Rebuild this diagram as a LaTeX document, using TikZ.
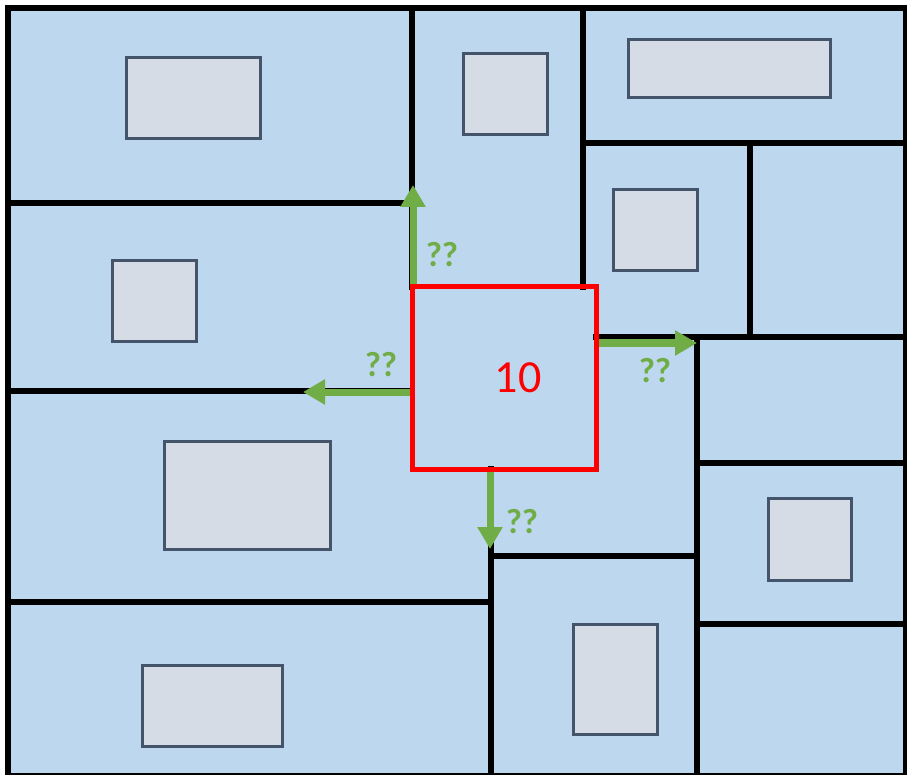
\documentclass[tikz,border=0pt]{standalone}
\usepackage{fontspec}
\setmainfont{Carlito}
\usetikzlibrary{arrows.meta}
\definecolor{cellblue}{HTML}{BDD7EE}
\definecolor{boxgray}{HTML}{D6DCE5}
\definecolor{boxedge}{HTML}{44546A}
\definecolor{flowgreen}{HTML}{70AD47}
\begin{document}
\begin{tikzpicture}[x=1pt, y=-1pt, line join=miter,
		wall/.style={line width=5.5pt, black, line cap=rect},
		block/.style={fill=boxgray, draw=boxedge, line width=3pt},
		flow/.style={line width=7pt, flowgreen, -{Triangle[width=24pt,length=22pt]}},
		probe/.style={text=flowgreen, font=\bfseries\fontsize{35}{42}\selectfont, inner sep=0pt}]
	\useasboundingbox (0,0) rectangle (907,775);
	\fill[cellblue] (8,8) rectangle (906,776);
	% objects in the cells
	\foreach \xa/\ya/\xb/\yb in {126/58/260/139, 463/54/547/135, 628/40/830/98, 613/190/697/271, 112/261/196/342, 164/441/330/549, 142/665/282/746, 768/498/851/580, 573/624/657/734} {
		\filldraw[block] (\xa,\ya) rectangle (\xb,\yb);
	}
	% walls between the cells
	\draw[wall] (412,8) -- (412,287);
	\draw[wall] (8,203) -- (412,203);
	\draw[wall] (583,8) -- (583,287);
	\draw[wall] (583,143) -- (906,143);
	\draw[wall] (750,143) -- (750,337);
	\draw[wall] (596,337) -- (906,337);
	\draw[wall] (697,337) -- (697,776);
	\draw[wall] (697,463) -- (906,463);
	\draw[wall] (697,624) -- (906,624);
	\draw[wall] (491,556) -- (697,556);
	\draw[wall] (491,469) -- (491,776);
	\draw[wall] (8,602) -- (491,602);
	\draw[wall] (8,391) -- (412,391);
	\draw[line width=6pt] (8,8) rectangle (906,776);
	% current cell
	\node[draw=red, line width=5pt, minimum width=184pt, minimum height=182pt, inner sep=0pt] (cur) at (504,378) {};
	\node[text=red, font=\fontsize{46}{55}\selectfont, inner sep=0pt] (num) at (518,378) {10};
	% neighbours
	\coordinate (upend) at (413,185);
	\coordinate (leftend) at (303,392);
	\coordinate (rightend) at (697,343);
	\coordinate (downend) at (490,549);
	\draw[flow] (cur.north west -| upend) -- (upend);
	\draw[flow] (cur.west |- leftend) -- (leftend);
	\draw[flow] (cur.east |- rightend) -- (rightend);
	\draw[flow] (cur.south -| downend) -- (downend);
	\node[probe] (qup) at (442,255) {??};
	\node[probe] (qleft) at (381,365) {??};
	\node[probe] (qright) at (655,371) {??};
	\node[probe] (qdown) at (522,522) {??};
\end{tikzpicture}
\end{document}
